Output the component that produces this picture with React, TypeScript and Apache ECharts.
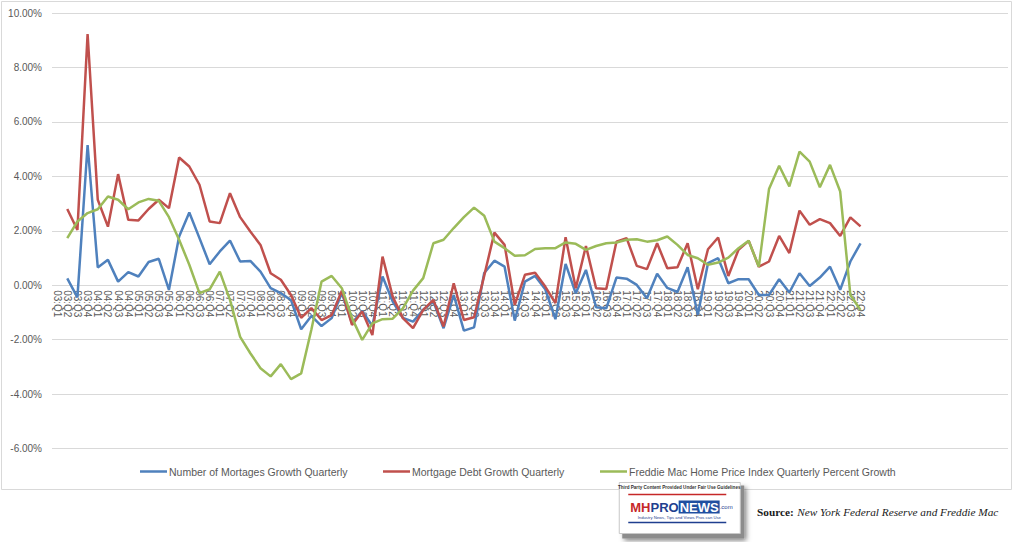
import React, { useEffect, useRef } from "react";
import * as echarts from "echarts";

const quarters = [
  "03:Q1","03:Q2","03:Q3","03:Q4","04:Q1","04:Q2","04:Q3","04:Q4",
  "05:Q1","05:Q2","05:Q3","05:Q4","06:Q1","06:Q2","06:Q3","06:Q4",
  "07:Q1","07:Q2","07:Q3","07:Q4","08:Q1","08:Q2","08:Q3","08:Q4",
  "09:Q1","09:Q2","09:Q3","09:Q4","10:Q1","10:Q2","10:Q3","10:Q4",
  "11:Q1","11:Q2","11:Q3","11:Q4","12:Q1","12:Q2","12:Q3","12:Q4",
  "13:Q1","13:Q2","13:Q3","13:Q4","14:Q1","14:Q2","14:Q3","14:Q4",
  "15:Q1","15:Q2","15:Q3","15:Q4","16:Q1","16:Q2","16:Q3","16:Q4",
  "17:Q1","17:Q2","17:Q3","17:Q4","18:Q1","18:Q2","18:Q3","18:Q4",
  "19:Q1","19:Q2","19:Q3","19:Q4","20:Q1","20:Q2","20:Q3","20:Q4",
  "21:Q1","21:Q2","21:Q3","21:Q4","22:Q1","22:Q2","22:Q3","22:Q4",
];

const seriesNames = [
  "Number of Mortages Growth Quarterly",
  "Mortgage Debt Growth Quarterly",
  "Freddie Mac Home Price Index Quarterly Percent Growth",
];

const mortgageCount = [
  null, 0.25, -0.45, 5.15,
  0.65, 0.93, 0.13, 0.48,
  0.32, 0.85, 0.97, -0.17,
  1.79, 2.67, 1.73, 0.77,
  1.24, 1.64, 0.87, 0.89,
  0.5, -0.11, -0.29, -0.55,
  -1.62, -1.13, -1.5, -1.21,
  -0.29, -1.39, -0.95, -1.5,
  0.32, -0.6, -1.2, -1.34,
  -0.9, -0.6, -1.58, -0.36,
  -1.67, -1.55, 0.45, 0.9,
  0.68, -1.3, 0.13, 0.34,
  -0.15, -1.25, 0.78, -0.3,
  0.56, -0.81, -0.85, 0.28,
  0.24, 0.01, -0.48, 0.42,
  -0.1, -0.25, 0.66, -1.09,
  0.81, 0.99, 0.07, 0.22,
  0.22, -0.36, -0.36, 0.22,
  -0.27, 0.44, -0.03, 0.28,
  0.68, -0.17, 0.87, 1.54,
];

const mortgageDebt = [
  null, 2.8, 2.03, 9.23,
  3.14, 2.15, 4.08, 2.4,
  2.38, 2.8, 3.14, 2.83,
  4.69, 4.36, 3.69, 2.34,
  2.28, 3.38, 2.5, 1.97,
  1.48, 0.44, 0.2, -0.36,
  -1.2, -0.84, -1.28, -1.1,
  -0.2, -1.46, -0.97, -1.83,
  1.05, -0.42, -1.21, -1.58,
  -0.91, -0.54, -1.52, 0.07,
  -1.28, -1.18, 0.35, 1.93,
  1.48, -0.72, 0.38, 0.46,
  -0.05, -0.66, 1.76, -0.11,
  1.44, -0.11, -0.14, 1.6,
  1.73, 0.71, 0.59, 1.54,
  0.62, 0.66, 1.54, -0.15,
  1.32, 1.75, 0.34, 1.3,
  1.63, 0.68, 0.87, 1.81,
  1.18, 2.74, 2.22, 2.43,
  2.28, 1.81, 2.49, 2.16,
];

const homePrice = [
  null, 1.73, 2.34, 2.65,
  2.79, 3.26, 3.14, 2.79,
  3.04, 3.17, 3.1, 2.5,
  1.67, 0.75, -0.29, -0.15,
  0.5, -0.54, -1.9, -2.5,
  -3.05, -3.35, -2.9, -3.45,
  -3.24, -1.64, 0.13, 0.34,
  -0.11, -1.21, -2.01, -1.4,
  -1.25, -1.23, -0.85, -0.2,
  0.26, 1.54, 1.67, 2.1,
  2.5, 2.85, 2.55, 1.6,
  1.36, 1.08, 1.1, 1.33,
  1.36, 1.36, 1.57, 1.52,
  1.3, 1.44, 1.54, 1.57,
  1.67, 1.69, 1.6, 1.65,
  1.79, 1.48, 1.11, 0.99,
  0.75, 0.83, 1.01, 1.36,
  1.63, 0.68, 3.53, 4.39,
  3.63, 4.91, 4.54, 3.6,
  4.42, 3.44, -0.36, -0.91,
];

const colors = ["#4F81BD", "#C0504D", "#9BBB59"];
const yTicks = { min: -6, max: 10, interval: 2 };

export default function App() {
  const ref = useRef<HTMLDivElement>(null);
  useEffect(() => {
    if (!ref.current) return;
    const chart = echarts.init(ref.current, null, { renderer: "svg" });
    const axisCats = [...quarters, ...Array(14).fill("")];
    const font = "'Liberation Sans', Arial, sans-serif";
    const serif = "'Liberation Serif', 'Times New Roman', serif";
    const legendLefts = [140, 383, 600];
    const seriesData = [mortgageCount, mortgageDebt, homePrice];
    const gridTop = 13;
    const gridHeight = 435.5;
    // offset of the category axis so that it sits on the zero line
    const zeroOffset = -gridHeight * (0 - yTicks.min) / (yTicks.max - yTicks.min);
    chart.setOption({
      animation: false,
      backgroundColor: "#ffffff",
      grid: { left: 52, right: 16, top: gridTop, height: gridHeight, containLabel: false },
      xAxis: {
        type: "category",
        data: axisCats,
        boundaryGap: true,
        offset: zeroOffset,
        axisLine: { show: false, onZero: false },
        axisTick: { show: false },
        splitLine: { show: false },
        axisLabel: {
          interval: 0,
          rotate: -90,
          margin: 5,
          color: "#595959",
          fontSize: 10,
          fontFamily: font,
          hideOverlap: false,
        },
      },
      yAxis: {
        type: "value",
        min: yTicks.min,
        max: yTicks.max,
        interval: yTicks.interval,
        axisLine: { show: false },
        axisTick: { show: false },
        splitLine: { lineStyle: { color: "#d9d9d9", width: 1 } },
        axisLabel: {
          margin: 10,
          color: "#595959",
          fontSize: 10,
          fontFamily: font,
          formatter: (v: number) => v.toFixed(2) + "%",
        },
      },
      legend: seriesNames.map((n, i) => ({
        data: [n],
        left: legendLefts[i],
        top: 466,
        icon: "rect",
        itemWidth: 27,
        itemHeight: 2.5,
        itemGap: 0,
        padding: 0,
        textStyle: { color: "#595959", fontSize: 10.5, fontFamily: font, padding: [0, 0, 0, -3] },
      })),
      series: seriesNames.map((n, i) => ({
        name: n,
        type: "line",
        data: seriesData[i],
        symbol: "none",
        showSymbol: false,
        connectNulls: false,
        lineStyle: { color: colors[i], width: 2.5 },
        itemStyle: { color: colors[i] },
      })),
      graphic: [
        {
          type: "rect",
          shape: { x: 1.5, y: 1.5, width: 1010, height: 488 },
          style: { fill: "none", stroke: "#d9d9d9", lineWidth: 1 },
          silent: true,
        },
        {
          type: "group",
          left: 618,
          top: 482,
          children: [
            {
              type: "rect",
              shape: { x: 4, y: 4, width: 122, height: 53 },
              style: { fill: "#8c8c8c", shadowBlur: 5, shadowColor: "rgba(0,0,0,0.5)", shadowOffsetX: 2, shadowOffsetY: 2 },
            },
            {
              type: "rect",
              shape: { x: 1, y: 1, width: 121, height: 51 },
              style: { fill: "#ffffff", stroke: "#c8c8c8", lineWidth: 1 },
            },
            {
              type: "text",
              x: 61,
              y: 3,
              style: {
                text: "Third Party Content Provided Under Fair Use Guidelines",
                fontSize: 4.6,
                fontWeight: "bold",
                fill: "#333",
                align: "center",
                fontFamily: font,
              },
            },
            {
              type: "line",
              shape: { x1: 10, y1: 13, x2: 108, y2: 13 },
              style: { stroke: "#c62828", lineWidth: 1.5 },
            },
            {
              type: "text",
              x: 12,
              y: 19,
              style: {
                text: "{mh|MH}{pro|PRO}{news|NEWS}{com|.com}",
                fontFamily: font,
                rich: {
                  mh: { fill: "#c62828", fontSize: 13, fontWeight: "bold", fontFamily: font },
                  pro: { fill: "#1f3f8f", fontSize: 13, fontWeight: "bold", fontFamily: font },
                  news: {
                    fill: "#ffffff",
                    fontSize: 13,
                    fontWeight: "bold",
                    fontFamily: font,
                    backgroundColor: "#1f4fa0",
                    padding: [0, 1, 0, 1],
                  },
                  com: { fill: "#1f3f8f", fontSize: 6, fontFamily: font },
                },
              },
            },
            {
              type: "text",
              x: 61,
              y: 34,
              style: {
                text: "Industry News, Tips and Views Pros can Use",
                fontSize: 4.2,
                fill: "#1f3f8f",
                align: "center",
                fontFamily: font,
              },
            },
            {
              type: "line",
              shape: { x1: 10, y1: 41, x2: 108, y2: 41 },
              style: { stroke: "#1f3f8f", lineWidth: 1.5 },
            },
          ],
        },
        {
          type: "text",
          left: 757,
          top: 506,
          style: {
            text: "{b|Source:} {i|New York Federal Reserve and Freddie Mac}",
            rich: {
              b: { fontFamily: serif, fontWeight: "bold", fontSize: 11.3, fill: "#1a1a1a" },
              i: { fontFamily: serif, fontStyle: "italic", fontSize: 11.3, fill: "#1a1a1a" },
            },
          },
        },
      ],
    });
    return () => chart.dispose();
  }, []);
  return (
    <div
      ref={ref}
      style={{ position: "fixed", left: 0, top: 0, width: 1024, height: 542, background: "#fff" }}
    />
  );
}
